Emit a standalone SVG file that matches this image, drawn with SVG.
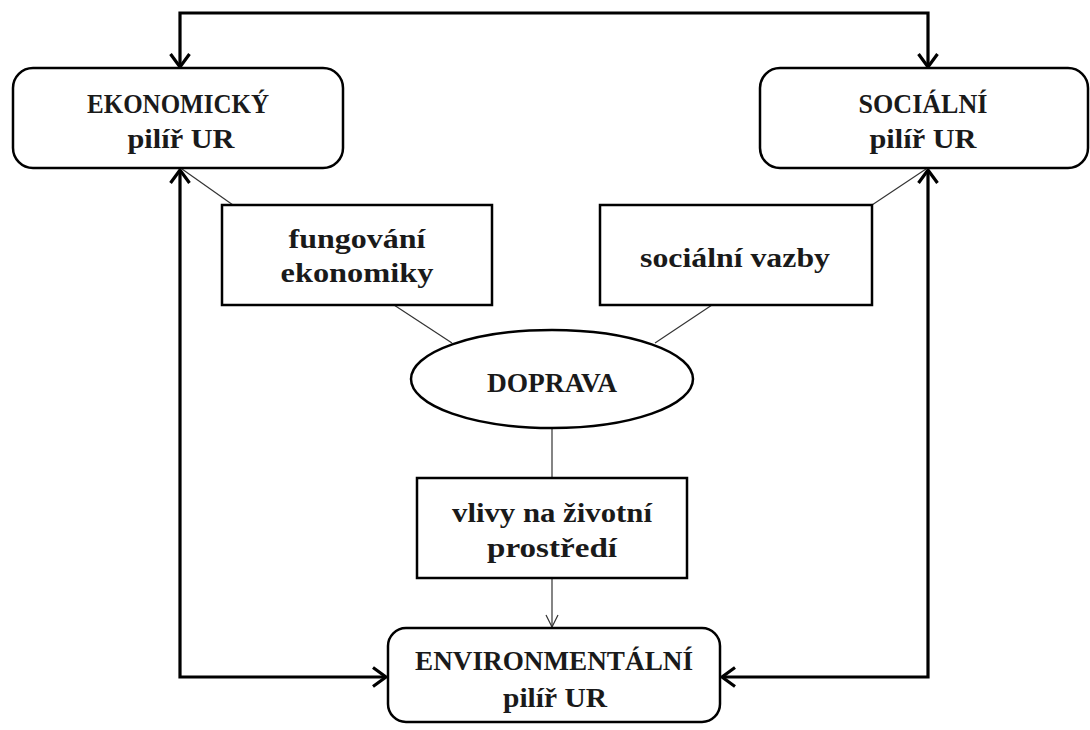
<svg xmlns="http://www.w3.org/2000/svg" width="1090" height="730" viewBox="0 0 1090 730">
<style>
  .box{fill:#fff;stroke:#000;stroke-width:2.5}
  .t{font-family:"Liberation Serif","DejaVu Serif",serif;font-weight:bold;font-size:27px;fill:#1a1a1a;text-anchor:middle}
  .thick{fill:none;stroke:#000;stroke-width:3.2}
  .thin{fill:none;stroke:#333;stroke-width:1.2}
</style>
<defs>
  <marker id="ah" viewBox="0 0 16 22" refX="14.5" refY="11" markerWidth="16" markerHeight="22" markerUnits="userSpaceOnUse" orient="auto-start-reverse">
    <path d="M1.5,1.5 L14.5,11 L1.5,20.5" fill="none" stroke="#000" stroke-width="3.2"/>
  </marker>
  <marker id="ahThin" viewBox="0 0 14 14" refX="13" refY="7" markerWidth="14" markerHeight="14" markerUnits="userSpaceOnUse" orient="auto">
    <path d="M1,1 L13,7 L1,13" fill="none" stroke="#333" stroke-width="1.2"/>
  </marker>
</defs>
<rect width="1090" height="730" fill="#fff"/>
<g id="connectors">
  <path class="thick" d="M180,67 L180,13 L928,13 L928,67" marker-start="url(#ah)" marker-end="url(#ah)"/>
  <path class="thick" d="M180,170 L180,677 L386,677" marker-start="url(#ah)" marker-end="url(#ah)"/>
  <path class="thick" d="M928,170 L928,677 L722,677" marker-start="url(#ah)" marker-end="url(#ah)"/>
  <line class="thin" x1="233" y1="205" x2="182" y2="169"/>
  <line class="thin" x1="872" y1="205" x2="926" y2="169"/>
  <line class="thin" x1="394" y1="305" x2="452" y2="343"/>
  <line class="thin" x1="712" y1="305" x2="655" y2="343"/>
  <line class="thin" x1="552" y1="428" x2="552" y2="478"/>
  <line class="thin" x1="552" y1="578" x2="552" y2="627" marker-end="url(#ahThin)"/>
</g>
<g id="ekonomicky">
  <rect class="box" x="13" y="68" width="330" height="100" rx="20"/>
  <text class="t" x="178" y="113" textLength="182" lengthAdjust="spacingAndGlyphs">EKONOMICKÝ</text>
  <text class="t" x="181" y="148" textLength="107" lengthAdjust="spacingAndGlyphs">pilíř UR</text>
</g>
<g id="socialni">
  <rect class="box" x="760" y="68" width="328" height="100" rx="20"/>
  <text class="t" x="923" y="113" textLength="129" lengthAdjust="spacingAndGlyphs">SOCIÁLNÍ</text>
  <text class="t" x="923" y="148" textLength="107" lengthAdjust="spacingAndGlyphs">pilíř UR</text>
</g>
<g id="fungovani">
  <rect class="box" x="222" y="205" width="270" height="100"/>
  <text class="t" x="357" y="248" textLength="137" lengthAdjust="spacingAndGlyphs">fungování</text>
  <text class="t" x="357" y="282" textLength="153" lengthAdjust="spacingAndGlyphs">ekonomiky</text>
</g>
<g id="vazby">
  <rect class="box" x="600" y="205" width="272" height="100"/>
  <text class="t" x="735" y="267" textLength="190" lengthAdjust="spacingAndGlyphs">sociální vazby</text>
</g>
<g id="doprava">
  <ellipse class="box" cx="552" cy="379" rx="141" ry="49"/>
  <text class="t" x="552" y="392" textLength="130" lengthAdjust="spacingAndGlyphs">DOPRAVA</text>
</g>
<g id="vlivy">
  <rect class="box" x="417" y="478" width="270" height="100"/>
  <text class="t" x="552" y="522" textLength="200" lengthAdjust="spacingAndGlyphs">vlivy na životní</text>
  <text class="t" x="552" y="557" textLength="130" lengthAdjust="spacingAndGlyphs">prostředí</text>
</g>
<g id="environmentalni">
  <rect class="box" x="388" y="628" width="332" height="94" rx="18"/>
  <text class="t" x="554" y="670" textLength="278" lengthAdjust="spacingAndGlyphs">ENVIRONMENTÁLNÍ</text>
  <text class="t" x="555" y="707" textLength="104" lengthAdjust="spacingAndGlyphs">pilíř UR</text>
</g>
</svg>
